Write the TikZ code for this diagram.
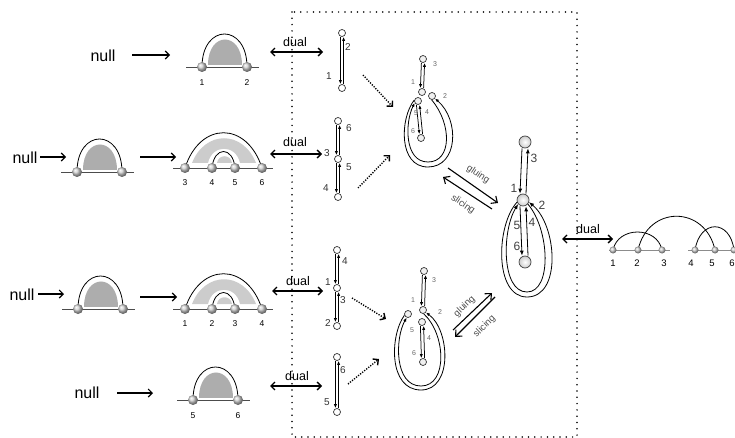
\documentclass[tikz,border=0pt]{standalone}
\usepackage{fontspec}
\setmainfont{Liberation Sans}
\usetikzlibrary{arrows.meta}

% double (ribbon) edge between two vertically stacked vertices:
% left strand runs down, right strand runs up
\newcommand\twinedge[3][1.6pt]{%
  \draw[twin] ([xshift=-#1]#2.south) -- ([xshift=-#1]#3.north);
  \draw[twin] ([xshift=#1]#3.north) -- ([xshift=#1]#2.south);}

\tikzset{
  ball/.style={circle, inner sep=0pt, minimum size=10pt, shading=ball, ball color=gray!38},
  smallball/.style={circle, inner sep=0pt, minimum size=7pt, shading=ball, ball color=gray!38},
  vtx/.style={circle, draw=black!80, line width=0.7pt, fill=white, inner sep=0pt, minimum size=7pt},
  lvtx/.style={vtx, fill=gray!12},
  bigvtx/.style={circle, draw=black!75, line width=0.7pt, inner color=white, outer color=gray!40, inner sep=0pt, minimum size=12pt},
  twin/.style={line width=0.75pt, -{Latex[length=4pt,width=3.2pt]}},
  bigtwin/.style={line width=0.8pt, -{Latex[length=5pt,width=4pt]}},
  loopln/.style={line width=0.8pt, -{Latex[length=4pt,width=3.2pt]}},
  bigloop/.style={line width=0.8pt, -{Latex[length=5pt,width=4pt]}},
  baseln/.style={line width=0.9pt, black!70},
  rbaseln/.style={line width=0.9pt, black!45},
  archln/.style={line width=0.8pt, black},
  domefill/.style={fill=black!32},
  bandfill/.style={fill=black!20},
  plainarr/.style={line width=1.1pt, -{Straight Barb[length=4pt,width=8pt]}},
  dualarr/.style={line width=1.4pt, {Straight Barb[length=4pt,width=8pt]}-{Straight Barb[length=4pt,width=8pt]}},
  gluearr/.style={line width=1.1pt, -{Straight Barb[length=5pt,width=9pt]}},
  dotarr/.style={line width=1.4pt, dash pattern=on 1.2pt off 1.4pt, -{Straight Barb[length=4pt,width=8pt]}},
  frame/.style={line width=1.7pt, line cap=round, dash pattern=on 0pt off 6.3pt},
  nulltext/.style={inner sep=0pt, font=\fontsize{16}{18}\selectfont},
  duallab/.style={inner sep=0pt, font=\fontsize{12.5}{14}\selectfont},
  numlab/.style={inner sep=0pt, font=\fontsize{8.5}{10}\selectfont},
  clab/.style={inner sep=0pt, text=black!80, font=\fontsize{10}{12}\selectfont},
  slab/.style={inner sep=0pt, text=black!60, font=\fontsize{7}{8}\selectfont},
  glab/.style={inner sep=0pt, text=black!75, font=\fontsize{12}{14}\selectfont},
  rlab/.style={inner sep=0pt, font=\fontsize{9.5}{11}\selectfont},
  gl/.style={inner sep=0pt, text=black!70, font=\fontsize{9.5}{11}\selectfont},
  % one arch over a gray dome
  pics/onearch/.style 2 args={code={
    \draw[baseln] (-16,0) -- (57,0);
    \fill[domefill] (6,-2) .. controls (6,-36) and (40,-36) .. (40,-2) -- cycle;
    \draw[archln] (0,0) .. controls (0,-44) and (45,-44) .. (45,0);
    \node[ball] (-l) at (0,0) {};
    \node[ball] (-r) at (45,0) {};
    \node[numlab] at (0,16) {#1};
    \node[numlab] at (45,16) {#2};
  }},
  % an arch with a smaller arch nested inside
  pics/nestarch/.style n args={4}{code={
    \draw[baseln] (-12,0) -- (88,0);
    \fill[bandfill] (7,-5) .. controls (20,-38) and (58,-38) .. (71,-5)
      -- (55,-5) .. controls (51,-24) and (27,-24) .. (23,-5) -- cycle;
    \fill[bandfill] (32,-5) .. controls (33,-14) and (46,-14) .. (47,-5) -- cycle;
    \draw[archln] (0,0) .. controls (15,-47) and (62,-47) .. (77,0);
    \draw[archln] (27,0) .. controls (29,-22) and (48,-22) .. (50,0);
    \node[ball] (-a) at (0,0) {};
    \node[ball] (-b) at (27,0) {};
    \node[ball] (-c) at (50,0) {};
    \node[ball] (-d) at (77,0) {};
    \node[numlab] at (0,15) {#1};
    \node[numlab] at (27,15) {#2};
    \node[numlab] at (50,15) {#3};
    \node[numlab] at (77,15) {#4};
  }}
}

\begin{document}
\begin{tikzpicture}[x=1pt,y=-1pt]
\useasboundingbox (0,0) rectangle (735,438);

% dotted frame around the ribbon graphs
\draw[frame] (292,12) rectangle (577,437);

% ---------- left column: arch diagrams ----------
\node[nulltext] (null1) at (103,56) {null};
\coordinate (na1) at (132,55); \coordinate (nb1) at (170,55);
\draw[plainarr] (na1) -- (nb1);
\pic (d1) at (202,67) {onearch={1}{2}};

\node[nulltext] (null2) at (25,158) {null};
\coordinate (na2) at (40,157); \coordinate (nb2) at (66,157);
\draw[plainarr] (na2) -- (nb2);
\pic (d2) at (77,172) {onearch={}{}};
\coordinate (na3) at (140,157); \coordinate (nb3) at (176,157);
\draw[plainarr] (na3) -- (nb3);
\pic (d3) at (185,168) {nestarch={3}{4}{5}{6}};

\node[nulltext] (null3) at (22,295) {null};
\coordinate (na4) at (38,294); \coordinate (nb4) at (64,294);
\draw[plainarr] (na4) -- (nb4);
\pic (d4) at (78,309) {onearch={}{}};
\coordinate (na5) at (140,297); \coordinate (nb5) at (177,297);
\draw[plainarr] (na5) -- (nb5);
\pic (d5) at (185,309) {nestarch={1}{2}{3}{4}};

\node[nulltext] (null4) at (87,393) {null};
\coordinate (na6) at (117,393); \coordinate (nb6) at (153,393);
\draw[plainarr] (na6) -- (nb6);
\pic (d6) at (193,400) {onearch={5}{6}};

% ---------- dual arrows ----------
\coordinate (da1) at (270,52); \coordinate (db1) at (323,52);
\draw[dualarr] (da1) -- (db1);
\node[duallab] at (295,42) {dual};
\coordinate (da2) at (270,154); \coordinate (db2) at (322,154);
\draw[dualarr] (da2) -- (db2);
\node[duallab] at (295,142) {dual};
\coordinate (da3) at (272,291); \coordinate (db3) at (323,291);
\draw[dualarr] (da3) -- (db3);
\node[duallab] at (298,281) {dual};
\coordinate (da4) at (270,386); \coordinate (db4) at (322,386);
\draw[dualarr] (da4) -- (db4);
\node[duallab] at (297,376) {dual};

% ---------- chains ----------
\node[vtx] (a1) at (342,33) {};
\node[vtx] (a2) at (342,88) {};
\twinedge{a1}{a2}
\node[clab] at (348,47) {2};
\node[clab] at (329,76) {1};

\node[vtx] (b1) at (338,121) {};
\node[vtx] (b2) at (338,159) {};
\node[vtx] (b3) at (338,197) {};
\twinedge{b1}{b2}
\twinedge{b2}{b3}
\node[clab] at (349,128) {6};
\node[clab] at (327,153) {3};
\node[clab] at (349,167) {5};
\node[clab] at (326,188) {4};

\node[vtx] (c1) at (337,250) {};
\node[vtx] (c2) at (337,288) {};
\node[vtx] (c3) at (337,326) {};
\twinedge{c1}{c2}
\twinedge{c2}{c3}
\node[clab] at (345,261) {4};
\node[clab] at (328,282) {1};
\node[clab] at (343,300) {3};
\node[clab] at (328,323) {2};

\node[vtx] (e1) at (337,357) {};
\node[vtx] (e2) at (337,412) {};
\twinedge{e1}{e2}
\node[clab] at (343,370) {6};
\node[clab] at (327,402) {5};

% ---------- dotted arrows towards the glued graphs ----------
\coordinate (ta1) at (363,75);  \coordinate (tb1) at (393,107);
\coordinate (ta2) at (358,188); \coordinate (tb2) at (390,155);
\coordinate (ta3) at (352,298); \coordinate (tb3) at (386,319);
\coordinate (ta4) at (348,384); \coordinate (tb4) at (379,359);
\draw[dotarr] (ta1) -- (tb1);
\draw[dotarr] (ta2) -- (tb2);
\draw[dotarr] (ta3) -- (tb3);
\draw[dotarr] (ta4) -- (tb4);

% ---------- upper partially glued graph ----------
\node[lvtx] (u3) at (423,59) {};
\node[lvtx] (u1) at (422,92) {};
\node[lvtx] (u2) at (432,96) {};
\node[lvtx] (u5) at (418,101) {};
\node[lvtx] (u6) at (421,138) {};
\twinedge{u3}{u1}
\twinedge{u5}{u6}
\draw[loopln] (u5.165) .. controls (400,118) and (398,167) .. (428,167)
  .. controls (458,167) and (460,120) .. (u2.-40);
\draw[loopln] (u2.-95) .. controls (452,124) and (452,162) .. (428,162)
  .. controls (404,162) and (405,122) .. (u5.-150);
\node[slab] at (435,64) {3};
\node[slab] at (413,82) {1};
\node[slab] at (445,96) {2};
\node[slab] at (416,113) {5};
\node[slab] at (427,112) {4};
\node[slab] at (413,131) {6};

% ---------- lower partially glued graph ----------
\node[lvtx] (l3) at (424,271) {};
\node[lvtx] (l1) at (423,310) {};
\node[lvtx] (l5) at (408,314) {};
\node[lvtx] (l4) at (422,322) {};
\node[lvtx] (l6) at (423,362) {};
\twinedge{l3}{l1}
\twinedge{l4}{l6}
\draw[loopln] (l5.200) .. controls (390,335) and (388,390) .. (421,390)
  .. controls (453,390) and (450,330) .. (l1.-40);
\draw[loopln] (l1.-80) .. controls (446,334) and (448,386) .. (421,386)
  .. controls (394,386) and (395,338) .. (l5.-110);
\node[slab] at (434,280) {3};
\node[slab] at (413,300) {1};
\node[slab] at (440,312) {2};
\node[slab] at (412,330) {5};
\node[slab] at (429,338) {4};
\node[slab] at (414,353) {6};

% ---------- gluing / slicing ----------
\coordinate (ga1) at (448,168); \coordinate (gb1) at (498,203);
\coordinate (sa1) at (492,209); \coordinate (sb1) at (443,177);
\draw[gluearr] (ga1) -- (gb1);
\draw[gluearr] (sa1) -- (sb1);
\node[gl, rotate=-34] at (478,174.5) {gluing};
\node[gl, rotate=-34] at (463,204.5) {slicing};

\coordinate (ga2) at (453,330); \coordinate (gb2) at (492,293);
\coordinate (sa2) at (495,297); \coordinate (sb2) at (455,337);
\draw[gluearr] (ga2) -- (gb2);
\draw[gluearr] (sa2) -- (sb2);
\node[gl, rotate=44] at (464.5,306.5) {gluing};
\node[gl, rotate=44] at (484.5,326.5) {slicing};

% ---------- fully glued graph ----------
\node[bigvtx] (g3) at (525,142) {};
\node[bigvtx] (gm) at (523,200) {};
\node[bigvtx] (gb) at (525,262) {};
\draw[bigtwin] ([xshift=-3pt]g3.south) -- ([xshift=-3pt]gm.north);
\draw[bigtwin] ([xshift=3pt]gm.north) -- ([xshift=3pt]g3.south);
\draw[bigtwin] ([xshift=-3pt]gm.south) -- ([xshift=-3pt]gb.north);
\draw[bigtwin] ([xshift=3pt]gb.north) -- ([xshift=3pt]gm.south);
\draw[bigloop] (gm.200) .. controls (496,225) and (494,297) .. (527,297)
  .. controls (562,297) and (557,225) .. (gm.-20);
\draw[bigloop] (gm.-40) .. controls (550,230) and (552,292) .. (527,292)
  .. controls (501,292) and (502,230) .. (gm.-140);
\node[glab] at (534,158) {3};
\node[glab] at (514,188) {1};
\node[glab] at (542,205) {2};
\node[glab] at (517,225) {5};
\node[glab] at (532,222) {4};
\node[glab] at (517,246) {6};

% ---------- right: dual arc diagram ----------
\coordinate (da5) at (562,239); \coordinate (db5) at (613,239);
\draw[dualarr] (da5) -- (db5);
\node[duallab] at (588,229) {dual};
\draw[rbaseln] (609,250) -- (670,250);
\draw[rbaseln] (688,250) -- (738,250);
\draw[archln] (613,250) .. controls (618,226) and (657,226) .. (662,250);
\draw[archln] (638,250) .. controls (648,205) and (705,205) .. (715,250);
\draw[archln] (695,250) .. controls (700,219) and (730,219) .. (734,250);
\node[smallball] (r1) at (613,250) {};
\node[smallball] (r2) at (638,250) {};
\node[smallball] (r3) at (662,250) {};
\node[smallball] (r4) at (695,250) {};
\node[smallball] (r5) at (715,250) {};
\node[smallball] (r6) at (734,250) {};
\node[rlab] at (613,263) {1};
\node[rlab] at (637,263) {2};
\node[rlab] at (664,263) {3};
\node[rlab] at (691,263) {4};
\node[rlab] at (712,263) {5};
\node[rlab] at (732,263) {6};
\end{tikzpicture}
\end{document}
